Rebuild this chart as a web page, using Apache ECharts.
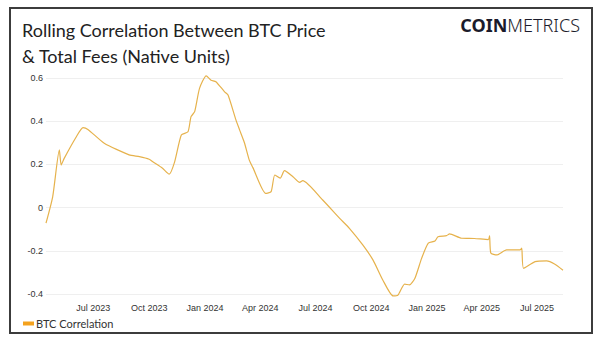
<!DOCTYPE html>
<html>
<head>
<meta charset="utf-8">
<script src="https://cdn.jsdelivr.net/npm/echarts@6/dist/echarts.min.js"></script>
<style>
  html, body { margin: 0; padding: 0; background: #fff; }
  #chart { width: 600px; height: 344px; }
</style>
</head>
<body>
<div id="chart"></div>
<script>
// 滚动相关性 BTC 价格 vs 手续费
var chart = echarts.init(document.getElementById('chart'), null, {renderer: 'svg'});

var dates = [
    '2023-04-14', '2023-04-25', '2023-05-06', '2023-05-09', '2023-05-14', '2023-06-03',
    '2023-06-14', '2023-06-22', '2023-07-19', '2023-08-29', '2023-09-15', '2023-10-01',
    '2023-10-07', '2023-10-23', '2023-11-03', '2023-11-12', '2023-11-23', '2023-12-04',
    '2023-12-09', '2023-12-15', '2023-12-23', '2024-01-03', '2024-01-11', '2024-01-19',
    '2024-02-02', '2024-02-08', '2024-02-21', '2024-02-27', '2024-03-06', '2024-03-14',
    '2024-03-20', '2024-04-10', '2024-04-19', '2024-04-25', '2024-05-04', '2024-05-11',
    '2024-05-25', '2024-06-05', '2024-06-10', '2024-07-13', '2024-08-10', '2024-08-26',
    '2024-09-17', '2024-10-04', '2024-10-20', '2024-11-06', '2024-11-14', '2024-11-25',
    '2024-12-03', '2024-12-12', '2024-12-23', '2025-01-03', '2025-01-14', '2025-01-19',
    '2025-02-02', '2025-02-07', '2025-02-27', '2025-03-20', '2025-04-12', '2025-04-14',
    '2025-04-16', '2025-04-26', '2025-05-12', '2025-06-03', '2025-06-06', '2025-06-09',
    '2025-06-28', '2025-07-17', '2025-07-30', '2025-08-13'
];

var btcCorrelation = [
    -0.072, 0.05, 0.267, 0.197, 0.228, 0.328,
    0.37, 0.362, 0.298, 0.244, 0.236, 0.224,
    0.212, 0.182, 0.155, 0.212, 0.336, 0.351,
    0.421, 0.444, 0.552, 0.61, 0.59, 0.583,
    0.537, 0.521, 0.406, 0.36, 0.3, 0.22,
    0.185, 0.066, 0.074, 0.151, 0.136, 0.171,
    0.143, 0.117, 0.125, 0.035, -0.05, -0.096,
    -0.173, -0.243, -0.335, -0.409, -0.405, -0.354,
    -0.358, -0.327, -0.235, -0.165, -0.155, -0.135,
    -0.13, -0.122, -0.142, -0.143, -0.148, -0.131,
    -0.21, -0.219, -0.196, -0.196, -0.188, -0.281,
    -0.25, -0.247, -0.261, -0.29
];

var tickDates = ['2023-07-01', '2023-10-01', '2024-01-01', '2024-04-01', '2024-07-01',
    '2024-10-01', '2025-01-01', '2025-04-01', '2025-07-01'];
var yTicks = [-0.4, -0.2, 0, 0.2, 0.4, 0.6];

var months = ['Jan', 'Feb', 'Mar', 'Apr', 'May', 'Jun', 'Jul', 'Aug', 'Sep', 'Oct', 'Nov', 'Dec'];

function ts(s) {
    var p = s.split('-');
    return Date.UTC(+p[0], +p[1] - 1, +p[2]);
}

var data = [];
for (var i = 0; i < dates.length; i++) {
    data.push([ts(dates[i]), btcCorrelation[i]]);
}

option = {
    backgroundColor: '#fff',
    animation: false,
    title: {
        text: 'Rolling Correlation Between BTC Price\n& Total Fees (Native Units)',
        left: 17,
        top: 12,
        textStyle: {
            fontFamily: 'Lato',
            fontWeight: 'normal',
            fontSize: 18,
            lineHeight: 26,
            color: '#222'
        }
    },
    graphic: [
        {
            type: 'rect',
            shape: {x: 10, y: 8, width: 582, height: 325},
            style: {fill: 'none', stroke: '#3c3c3c', lineWidth: 2},
            silent: true
        },
        {
            type: 'text',
            right: 20,
            top: 16,
            style: {
                text: '{b|COIN}{l|METRICS}',
                rich: {
                    b: {fontFamily: 'Noto Sans', fontWeight: 'bold', fontSize: 18, fill: '#1b1b2b'},
                    l: {fontFamily: 'Noto Sans', fontWeight: 300, fontSize: 18, fill: '#1b1b2b'}
                }
            }
        }
    ],
    legend: {
        left: 18,
        top: 313,
        itemWidth: 11,
        itemHeight: 4,
        itemGap: 4,
        icon: 'rect',
        data: [{name: 'BTC Correlation', itemStyle: {color: '#f4a21e'}}],
        textStyle: {fontFamily: 'Lato', fontSize: 11, color: '#333', padding: [0, 0, 0, -3]}
    },
    grid: {
        left: 46,
        right: 37,
        top: 78,
        bottom: 50
    },
    xAxis: {
        type: 'value',
        min: ts(dates[0]),
        max: ts(dates[dates.length - 1]),
        axisLine: {show: false},
        axisTick: {show: false},
        splitLine: {show: false},
        axisLabel: {
            customValues: tickDates.map(ts),
            fontFamily: 'Liberation Sans',
            fontSize: 9,
            color: '#333',
            margin: 9,
            formatter: function (v) {
                var d = new Date(v);
                return months[d.getUTCMonth()] + ' ' + d.getUTCFullYear();
            }
        }
    },
    yAxis: {
        type: 'value',
        min: -0.4,
        max: 0.6,
        interval: 0.2,
        axisLine: {show: false},
        axisTick: {show: false},
        splitLine: {lineStyle: {color: '#efefef', width: 1}},
        axisLabel: {
            customValues: yTicks,
            fontFamily: 'Liberation Sans',
            fontSize: 9,
            color: '#333',
            margin: 3,
            formatter: function (v) {
                return Math.abs(v) < 1e-9 ? '0' : String(Math.round(v * 10) / 10);
            }
        }
    },
    series: [
        {
            name: 'BTC Correlation',
            type: 'line',
            showSymbol: false,
            clip: false,
            smooth: 0.2,
            lineStyle: {color: '#e6b24c', width: 1.2},
            itemStyle: {color: '#e6b24c'},
            data: data
        }
    ]
};
chart.setOption(option);
</script>
</body>
</html>
